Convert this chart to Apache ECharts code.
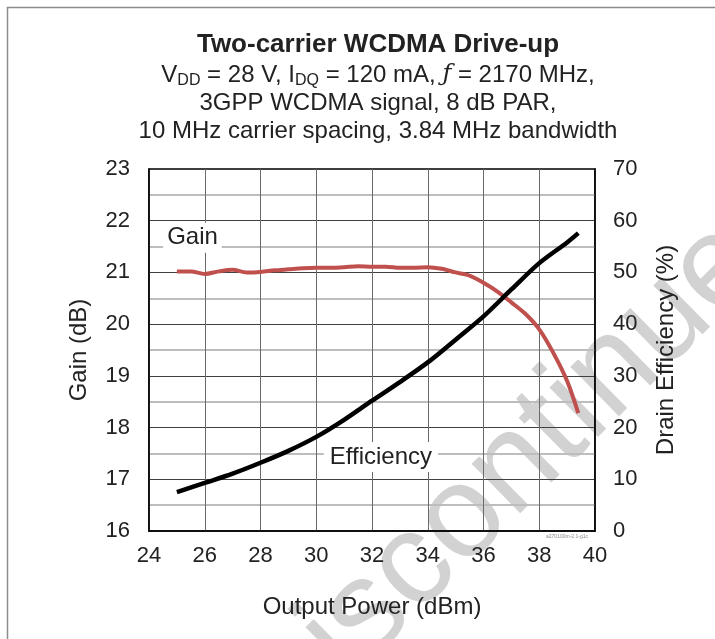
<!DOCTYPE html>
<html>
<head>
<meta charset="utf-8">
<script src="https://cdn.jsdelivr.net/npm/echarts@6/dist/echarts.min.js"></script>
<style>
html, body { margin: 0; padding: 0; background: #fff; }
#chart { width: 715px; height: 639px; }
</style>
</head>
<body>
<div id="chart"></div>
<script>
// Gain (dB) vs output power (dBm)
var gainPower = [25, 25.5, 26, 26.5, 27, 27.5, 28, 28.5, 29, 29.5, 30, 30.5, 31, 31.5, 32, 32.5, 33, 33.5, 34, 34.5, 35, 35.5, 36, 36.5, 37, 37.5, 38, 38.5, 39, 39.4];
var gainDb = [21.02, 21.02, 20.97, 21.02, 21.05, 21.00, 21.01, 21.04, 21.06, 21.08, 21.09, 21.09, 21.10, 21.12, 21.11, 21.11, 21.09, 21.09, 21.10, 21.07, 21.00, 20.94, 20.80, 20.63, 20.42, 20.20, 19.90, 19.45, 18.90, 18.28];

// Drain efficiency (%) vs output power (dBm)
var effPower = [25, 26, 27, 28, 29, 30, 31, 32, 33, 34, 35, 36, 37, 38, 39, 39.4];
var effPct = [7.5, 9.3, 11.1, 13.2, 15.5, 18.2, 21.5, 25.2, 28.8, 32.6, 37.0, 41.5, 46.7, 51.8, 55.8, 57.6];

var xRange = [24, 40, 2];
var gainRange = [16, 23, 1];
var effRange = [0, 70, 10];

var FONT = 'Liberation Sans, Arial, sans-serif';

function pairs(xs, ys) {
    return xs.map(function (x, i) { return [x, ys[i]]; });
}

var chart = echarts.init(document.getElementById('chart'));

var option = {
    backgroundColor: '#fff',
    animation: false,
    title: {
        text: 'Two-carrier WCDMA Drive-up',
        subtext: 'V{s|DD} = 28 V, I{s|DQ} = 120 mA, {f|ƒ} = 2170 MHz,\n3GPP WCDMA signal, 8 dB PAR,\n10 MHz carrier spacing, 3.84 MHz bandwidth',
        left: 378,
        top: 31,
        padding: 0,
        itemGap: 2,
        textAlign: 'center',
        textStyle: { fontFamily: FONT, fontSize: 26, fontWeight: 'bold', color: '#222', lineHeight: 28 },
        subtextStyle: {
            fontFamily: FONT, fontSize: 24, color: '#222', lineHeight: 28,
            rich: {
                s: { fontFamily: FONT, fontSize: 16, lineHeight: 16, verticalAlign: 'bottom', color: '#222' },
                f: { fontFamily: 'DejaVu Serif, serif', fontStyle: 'italic', fontSize: 24, lineHeight: 28, color: '#222' }
            }
        }
    },
    grid: {
        left: 149, right: 120, top: 169, bottom: 108,
        show: true, borderColor: '#000', borderWidth: 1.5, backgroundColor: 'transparent'
    },
    xAxis: {
        type: 'value',
        min: xRange[0], max: xRange[1], interval: xRange[2],
        name: 'Output Power (dBm)',
        nameLocation: 'middle',
        nameGap: 64,
        nameTextStyle: { fontFamily: FONT, fontSize: 24, color: '#222' },
        axisLine: { show: true, lineStyle: { color: '#000', width: 1.5 } },
        axisTick: { show: false },
        axisLabel: { fontFamily: FONT, fontSize: 22, color: '#222', margin: 14 },
        splitLine: { show: true, lineStyle: { color: '#6a6a6a', width: 1 } }
    },
    yAxis: [{
        type: 'value',
        position: 'left',
        min: gainRange[0], max: gainRange[1], interval: gainRange[2],
        name: 'Gain (dB)',
        nameLocation: 'middle',
        nameRotate: 90,
        nameGap: 58,
        nameTextStyle: { fontFamily: FONT, fontSize: 24, color: '#222' },
        axisLine: { show: true, lineStyle: { color: '#000', width: 1.5 } },
        axisTick: { show: false },
        axisLabel: { fontFamily: FONT, fontSize: 22, color: '#222', margin: 19 },
        splitLine: { show: true, lineStyle: { color: '#404040', width: 1 } },
        minorTick: { show: false, splitNumber: 2 },
        minorSplitLine: { show: true, lineStyle: { color: '#bdbdbd', width: 2 } }
    }, {
        type: 'value',
        position: 'right',
        min: effRange[0], max: effRange[1], interval: effRange[2],
        name: 'Drain Efficiency (%)',
        nameLocation: 'middle',
        nameRotate: 90,
        nameGap: 59,
        nameTextStyle: { fontFamily: FONT, fontSize: 24, color: '#222' },
        axisLine: { show: true, lineStyle: { color: '#000', width: 1.5 } },
        axisTick: { show: false },
        axisLabel: { fontFamily: FONT, fontSize: 22, color: '#222', margin: 18 },
        splitLine: { show: false }
    }],
    graphic: [{
        type: 'rect',
        silent: true,
        shape: { x: 7.5, y: 7.5, width: 720, height: 640 },
        style: { fill: 'none', stroke: '#8c8c8c', lineWidth: 1.5 }
    }, {
        // faint "Discontinued" stamp across the figure
        type: 'text',
        silent: true,
        z: -10,
        x: 525, y: 458,
        rotation: 44.5 * Math.PI / 180,
        style: {
            text: 'Discontinued',
            fontFamily: FONT, fontSize: 131,
            fill: '#d2d2d2',
            align: 'center', verticalAlign: 'middle'
        }
    }, {
        type: 'text',
        silent: true,
        x: 588, y: 537,
        style: { text: 'a270100m-2.1-g1c', fontFamily: FONT, fontSize: 5, fill: '#888', align: 'right', verticalAlign: 'middle' }
    }],
    series: [{
        name: 'Gain',
        type: 'line',
        yAxisIndex: 0,
        data: pairs(gainPower, gainDb),
        smooth: 0.3,
        showSymbol: false,
        lineStyle: { color: '#c0504d', width: 4 },
        markPoint: {
            symbol: 'rect', symbolSize: 0,
            label: {
                show: true, position: 'inside', formatter: 'Gain',
                fontFamily: FONT, fontSize: 24, color: '#222',
                backgroundColor: '#fff', padding: [3, 4]
            },
            data: [{ coord: [25.56, 21.67] }]
        }
    }, {
        name: 'Efficiency',
        type: 'line',
        yAxisIndex: 1,
        data: pairs(effPower, effPct),
        smooth: 0.3,
        showSymbol: false,
        lineStyle: { color: '#000', width: 4.5 },
        markPoint: {
            symbol: 'rect', symbolSize: 0,
            label: {
                show: true, position: 'inside', formatter: 'Efficiency',
                fontFamily: FONT, fontSize: 24, color: '#222',
                backgroundColor: '#fff', padding: [3, 6]
            },
            data: [{ coord: [32.32, 14.3] }]
        }
    }]
};

chart.setOption(option);
</script>
</body>
</html>
